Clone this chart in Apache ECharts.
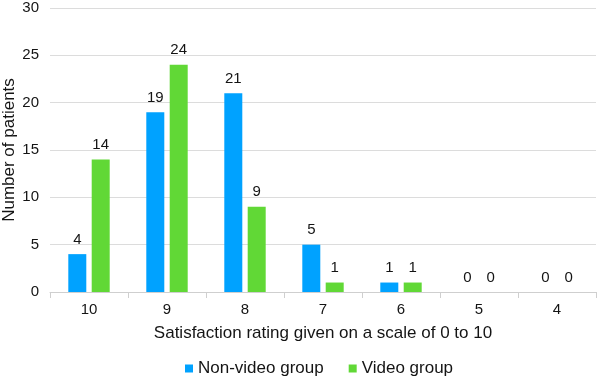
<!DOCTYPE html>
<html>
<head>
<meta charset="utf-8">
<script src="https://cdn.jsdelivr.net/npm/echarts@6/dist/echarts.min.js"></script>
<style>
  html, body { margin: 0; padding: 0; background: #fff; }
  #chart { width: 597px; height: 380px; }
</style>
</head>
<body>
<div id="chart"></div>
<script>
const ratings = ['10', '9', '8', '7', '6', '5', '4']
const nonVideo = [4, 19, 21, 5, 1, 0, 0]
const video = [14, 24, 9, 1, 1, 0, 0]

const chart = echarts.init(document.getElementById('chart'), null, { renderer: 'canvas' })

const font = 'Helvetica, "Liberation Sans", Arial, sans-serif'
const ink = '#141414'
const label = {
  show: true,
  position: 'top',
  distance: 7,
  color: ink,
  fontSize: 15,
  fontFamily: font,
}

chart.setOption({
  animation: false,
  grid: { left: 50, right: 1, top: 8, bottom: 88, outerBoundsMode: 'none' },
  legend: {
    top: 355,
    left: 180,
    itemWidth: 8,
    itemHeight: 8,
    itemGap: 25,
    icon: 'rect',
    textStyle: { color: ink, fontSize: 17, fontFamily: font },
    data: ['Non-video group', 'Video group'],
  },
  xAxis: {
    type: 'category',
    data: ratings,
    name: 'Satisfaction rating given on a scale of 0 to 10',
    nameLocation: 'middle',
    nameGap: 33,
    nameMoveOverlap: false,
    nameTextStyle: { color: ink, fontSize: 17, fontFamily: font },
    axisLine: { lineStyle: { color: '#cfcfcf' } },
    axisTick: { show: true, length: 6, lineStyle: { color: '#cfcfcf' } },
    axisLabel: { color: ink, fontSize: 15, fontFamily: font, margin: 10 },
  },
  yAxis: {
    type: 'value',
    min: 0,
    max: 30,
    interval: 5,
    name: 'Number of patients',
    nameLocation: 'middle',
    nameGap: 32,
    nameMoveOverlap: false,
    nameTextStyle: { color: ink, fontSize: 17, fontFamily: font },
    axisLine: { show: false },
    axisTick: { show: false },
    axisLabel: { color: ink, fontSize: 15, fontFamily: font, margin: 11 },
    splitLine: { lineStyle: { color: '#dcdcdc' } },
  },
  series: [
    {
      name: 'Non-video group',
      type: 'bar',
      data: nonVideo,
      barWidth: 18,
      barGap: '30%',
      itemStyle: { color: '#00A2FF' },
      label,
    },
    {
      name: 'Video group',
      type: 'bar',
      data: video,
      barWidth: 18,
      itemStyle: { color: '#61D836' },
      label,
    },
  ],
})
</script>
</body>
</html>
